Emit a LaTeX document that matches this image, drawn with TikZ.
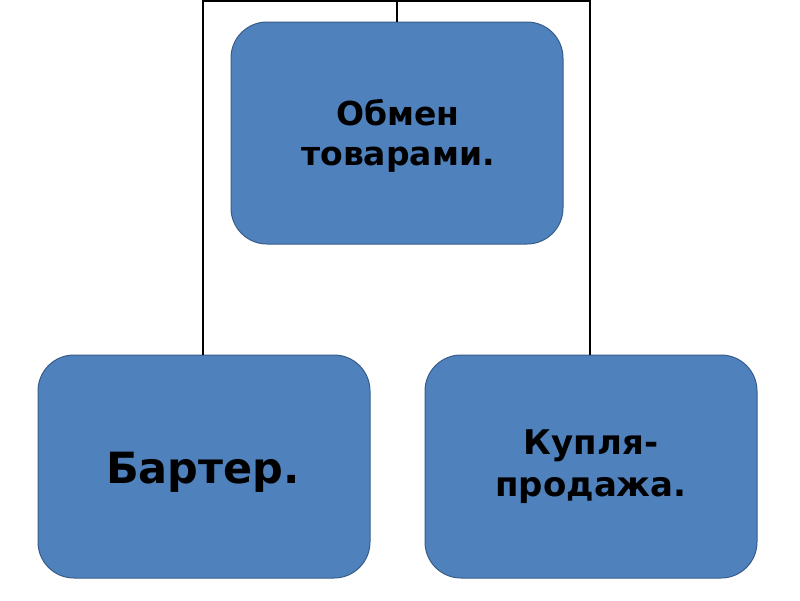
\documentclass[tikz,border=0pt]{standalone}
\usepackage{fontspec}
\setmainfont{DejaVu Sans}
\begin{document}
\begin{tikzpicture}[x=1pt,y=-1pt,
  box/.style={draw=boxline,line width=1pt,fill=boxfill,rounded corners=36pt},
  conn/.style={draw=black,line width=1.6pt},
  lbl/.style={align=center,text=black,inner sep=0pt}]
\definecolor{boxfill}{HTML}{4F81BD}
\definecolor{boxline}{HTML}{385D8A}
\useasboundingbox (0,0) rectangle (800,600);
\coordinate (tl) at (203,1);
\coordinate (tr) at (590,1);
\coordinate (tm) at (397,1);
\draw[box] (231,22) rectangle (563,244);
\draw[box] (38,355) rectangle (370,578);
\draw[box] (425,355) rectangle (757,578);
\node[lbl,font=\bfseries\fontsize{33}{40}\selectfont] (top) at (398,136) {Обмен\\товарами.};
\node[lbl,font=\bfseries\fontsize{43}{50}\selectfont,anchor=base] (left) at (203,483) {Бартер.};
\node[lbl,font=\bfseries\fontsize{34}{42}\selectfont] (right) at (591,467) {Купля-\\продажа.};
\coordinate (topbox) at (397,22);
\coordinate (lbox) at (203,355);
\coordinate (rbox) at (590,355);
\draw[conn] (lbox) -- (tl) -- (tr) -- (rbox);
\draw[conn] (tm) -- (topbox);
\end{tikzpicture}
\end{document}
